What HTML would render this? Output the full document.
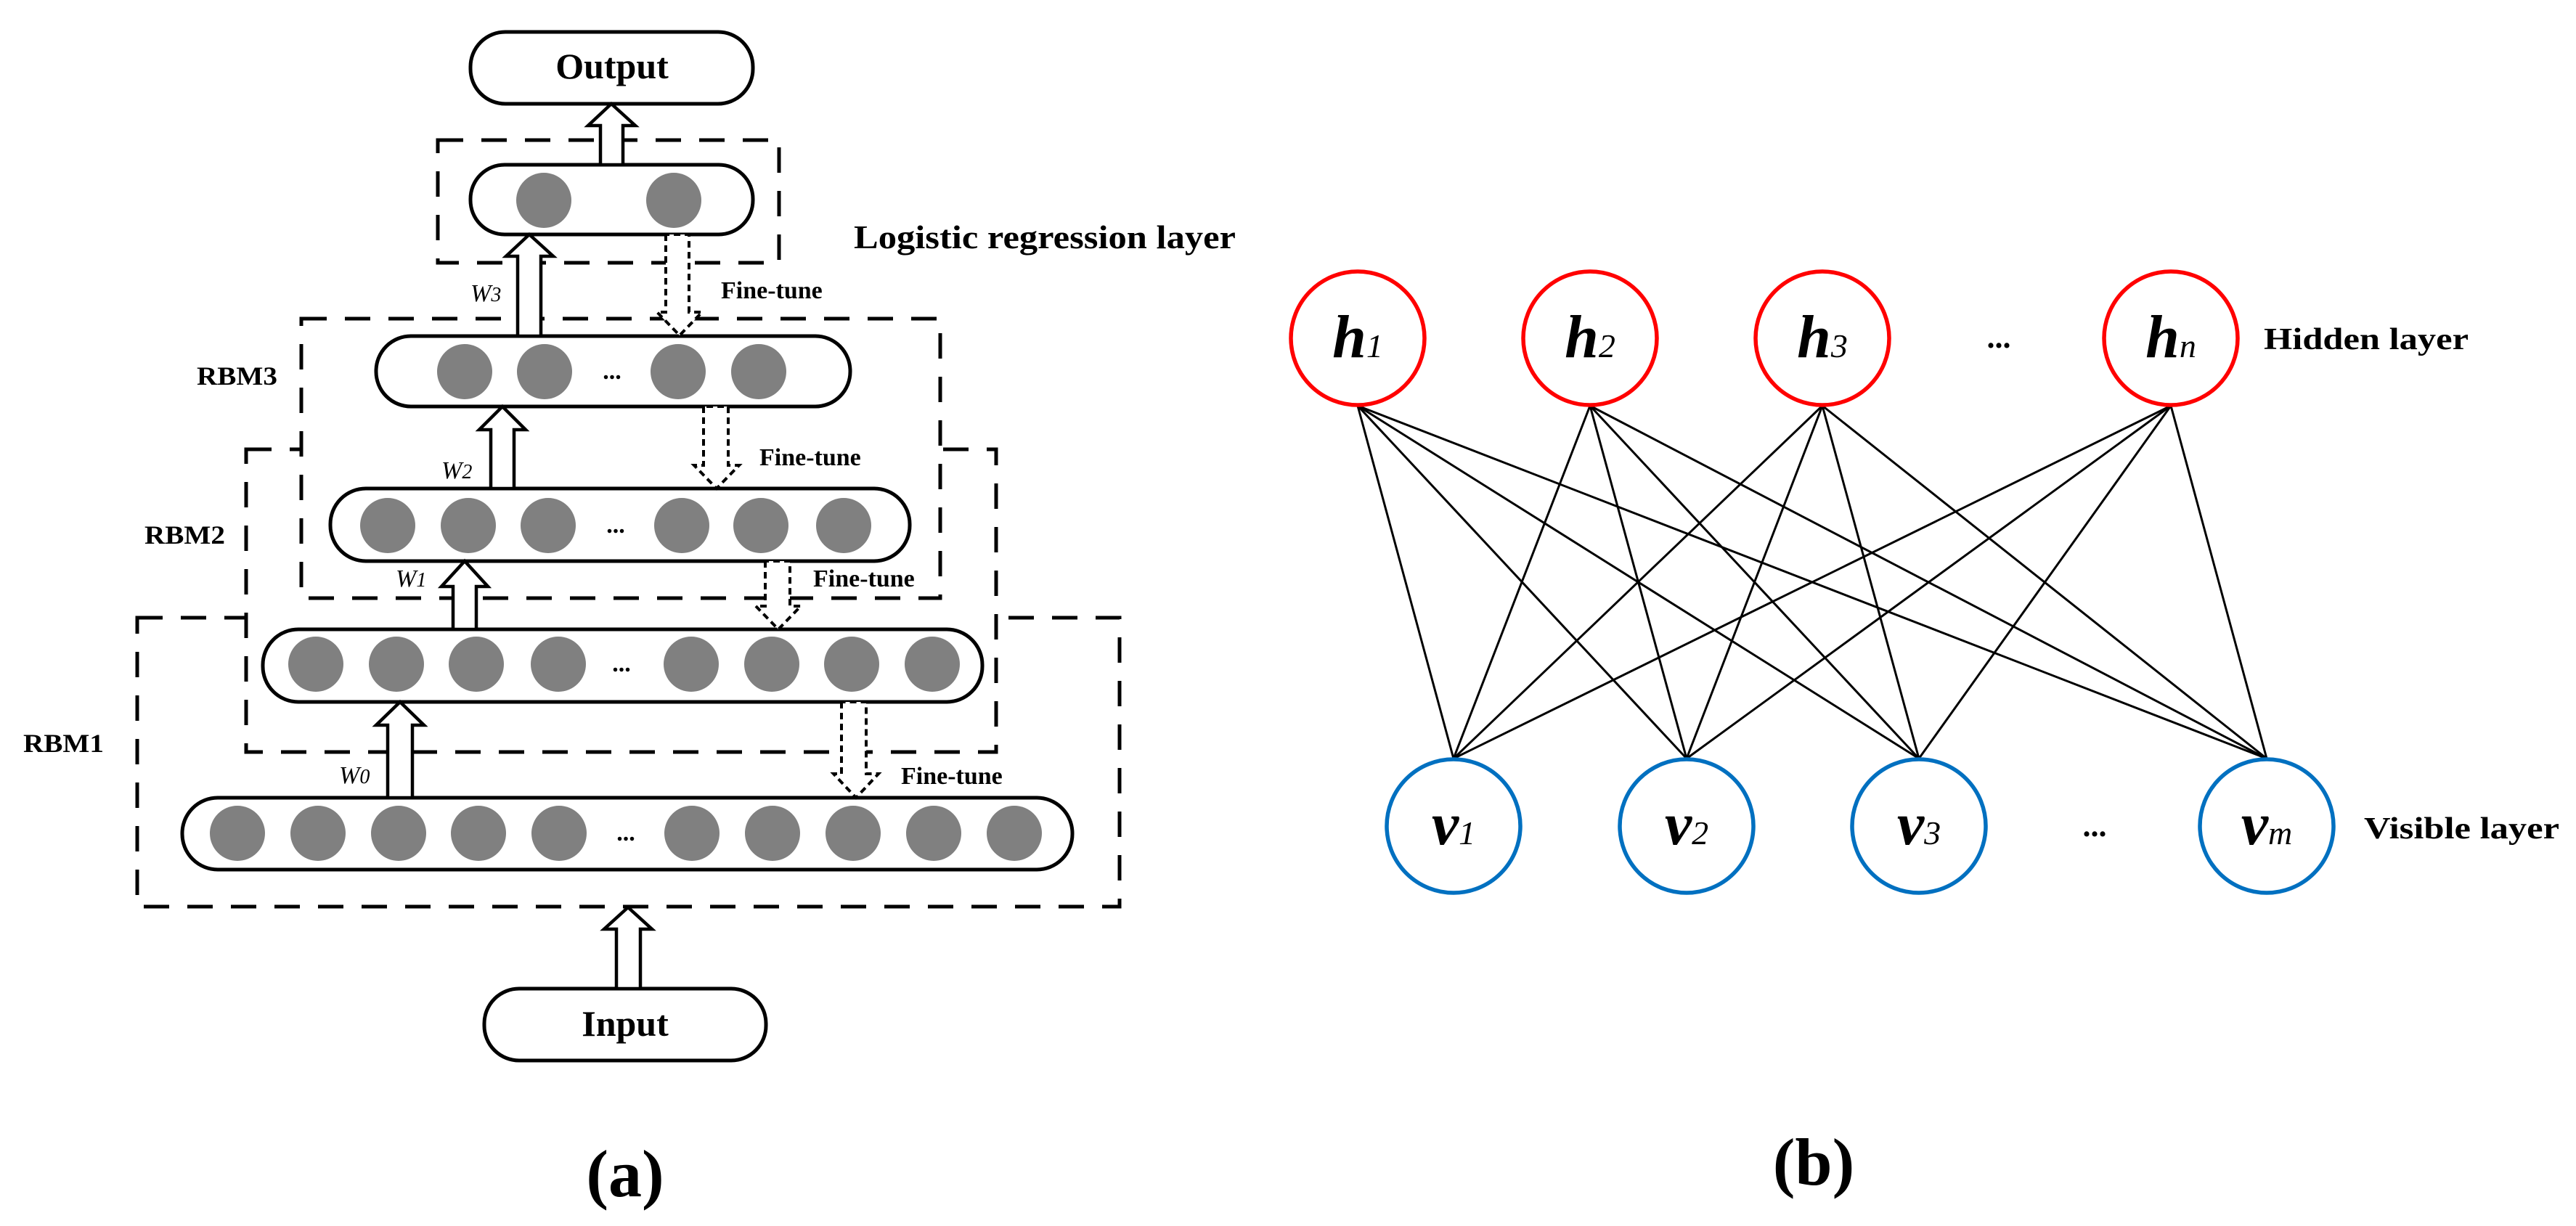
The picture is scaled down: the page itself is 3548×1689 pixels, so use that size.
<!DOCTYPE html>
<html><head><meta charset="utf-8"><style>html,body{margin:0;padding:0;background:#fff}svg{display:block}svg text{font-family:"Liberation Serif","Times New Roman",serif}</style></head>
<body>
<svg width="3548" height="1689" viewBox="0 0 3548 1689" xmlns="http://www.w3.org/2000/svg" style="font-family:'Liberation Serif',serif">
<rect width="3548" height="1689" fill="#fff"/>
<g fill="#fff" stroke="#000" stroke-width="5" stroke-dasharray="35 25">
<rect x="189" y="851" width="1353" height="398"/>
<rect x="339" y="619" width="1033" height="417"/>
<rect x="415" y="439" width="880" height="385"/>
<rect x="603" y="193" width="470" height="169"/>
</g>
<g fill="#fff" stroke="#000" stroke-width="5">
<rect x="648" y="44" width="389" height="99" rx="48"/>
<rect x="648" y="227" width="389" height="96" rx="47"/>
<rect x="518" y="463" width="653" height="97" rx="48"/>
<rect x="455" y="673" width="798" height="100" rx="49"/>
<rect x="362" y="867" width="991" height="100" rx="49"/>
<rect x="251" y="1099" width="1226" height="99" rx="49"/>
<rect x="667" y="1362" width="388" height="99" rx="48"/>
</g>
<g fill="#808080">
<circle cx="749" cy="276" r="38"/><circle cx="928" cy="276" r="38"/>
<circle cx="640" cy="512" r="38"/><circle cx="750" cy="512" r="38"/><circle cx="934" cy="512" r="38"/><circle cx="1045" cy="512" r="38"/>
<circle cx="534" cy="724" r="38"/><circle cx="645" cy="724" r="38"/><circle cx="755" cy="724" r="38"/><circle cx="939" cy="724" r="38"/><circle cx="1048" cy="724" r="38"/><circle cx="1162" cy="724" r="38"/>
<circle cx="435" cy="915" r="38"/><circle cx="546" cy="915" r="38"/><circle cx="656" cy="915" r="38"/><circle cx="769" cy="915" r="38"/><circle cx="952" cy="915" r="38"/><circle cx="1063" cy="915" r="38"/><circle cx="1173" cy="915" r="38"/><circle cx="1284" cy="915" r="38"/>
<circle cx="327" cy="1148" r="38"/><circle cx="438" cy="1148" r="38"/><circle cx="549" cy="1148" r="38"/><circle cx="659" cy="1148" r="38"/><circle cx="770" cy="1148" r="38"/><circle cx="953" cy="1148" r="38"/><circle cx="1064" cy="1148" r="38"/><circle cx="1175" cy="1148" r="38"/><circle cx="1286" cy="1148" r="38"/><circle cx="1397" cy="1148" r="38"/>
</g>
<g font-weight="bold" font-size="34" text-anchor="middle">
<text x="843" y="522">...</text><text x="848" y="734">...</text><text x="856" y="925">...</text><text x="862" y="1158">...</text>
</g>
<g fill="#fff" stroke="#000" stroke-width="4.5" stroke-linejoin="miter">
<polygon points="827,227 827,173 810,173 842,143 875,173 858,173 858,227"/>
<polygon points="713,463 713,353 697,353 729,323 762,353 745,353 745,463"/>
<polygon points="676,673 676,592 660,592 692,560 724,592 708,592 708,673"/>
<polygon points="624,867 624,808 608,808 640,773 672,808 656,808 656,867"/>
<polygon points="534,1099 534,999 518,999 551,967 584,999 568,999 568,1099"/>
<polygon points="849,1362 849,1280 832,1280 865,1250 898,1280 882,1280 882,1362"/>
</g>
<g fill="#fff" stroke="#000" stroke-width="4" stroke-dasharray="9 6">
<polygon points="917,323 917,430 905,430 936,462 967,430 949,430 949,323"/>
<polygon points="969,560 969,641 956,641 987,673 1018,641 1003,641 1003,560"/>
<polygon points="1054,773 1054,835 1041,835 1072,867 1103,835 1088,835 1088,773"/>
<polygon points="1159,967 1159,1066 1148,1066 1179,1099 1210,1066 1193,1066 1193,967"/>
</g>
<g font-weight="bold">
<text x="843" y="108" font-size="50" text-anchor="middle">Output</text>
<text x="861" y="1427" font-size="50" text-anchor="middle">Input</text>
<text x="861" y="1648" font-size="92" text-anchor="middle">(a)</text>
<text x="1176" y="342" font-size="46" textLength="526" lengthAdjust="spacingAndGlyphs">Logistic regression layer</text>
<text x="271" y="530" font-size="36" textLength="111" lengthAdjust="spacingAndGlyphs">RBM3</text>
<text x="199" y="749" font-size="36" textLength="111" lengthAdjust="spacingAndGlyphs">RBM2</text>
<text x="32" y="1036" font-size="36" textLength="111" lengthAdjust="spacingAndGlyphs">RBM1</text>
<g font-size="34">
<text x="993" y="411">Fine-tune</text>
<text x="1046" y="641">Fine-tune</text>
<text x="1120" y="808">Fine-tune</text>
<text x="1241" y="1080">Fine-tune</text>
</g>
</g>
<g font-style="italic" font-size="34">
<text x="648" y="415">W<tspan font-size="28">3</tspan></text>
<text x="608" y="659">W<tspan font-size="28">2</tspan></text>
<text x="545" y="808">W<tspan font-size="28">1</tspan></text>
<text x="467" y="1079">W<tspan font-size="28">0</tspan></text>
</g>
<g stroke="#000" stroke-width="3">
<line x1="1870" y1="559" x2="2002" y2="1045"/><line x1="1870" y1="559" x2="2323" y2="1045"/><line x1="1870" y1="559" x2="2643" y2="1045"/><line x1="1870" y1="559" x2="3122" y2="1045"/>
<line x1="2190" y1="559" x2="2002" y2="1045"/><line x1="2190" y1="559" x2="2323" y2="1045"/><line x1="2190" y1="559" x2="2643" y2="1045"/><line x1="2190" y1="559" x2="3122" y2="1045"/>
<line x1="2510" y1="559" x2="2002" y2="1045"/><line x1="2510" y1="559" x2="2323" y2="1045"/><line x1="2510" y1="559" x2="2643" y2="1045"/><line x1="2510" y1="559" x2="3122" y2="1045"/>
<line x1="2990" y1="559" x2="2002" y2="1045"/><line x1="2990" y1="559" x2="2323" y2="1045"/><line x1="2990" y1="559" x2="2643" y2="1045"/><line x1="2990" y1="559" x2="3122" y2="1045"/>
</g>
<g fill="#fff" stroke="#ff0000" stroke-width="5.5">
<circle cx="1870" cy="466" r="92"/><circle cx="2190" cy="466" r="92"/><circle cx="2510" cy="466" r="92"/><circle cx="2990" cy="466" r="92"/>
</g>
<g fill="#fff" stroke="#0070c0" stroke-width="5.5">
<circle cx="2002" cy="1138" r="92"/><circle cx="2323" cy="1138" r="92"/><circle cx="2643" cy="1138" r="92"/><circle cx="3122" cy="1138" r="92"/>
</g>
<g font-style="italic" font-weight="bold" font-size="84" text-anchor="middle">
<text x="1870" y="492">h<tspan font-size="46" font-weight="normal">1</tspan></text>
<text x="2190" y="492">h<tspan font-size="46" font-weight="normal">2</tspan></text>
<text x="2510" y="492">h<tspan font-size="46" font-weight="normal">3</tspan></text>
<text x="2990" y="492">h<tspan font-size="46" font-weight="normal">n</tspan></text>
<text x="2002" y="1163">v<tspan font-size="46" font-weight="normal">1</tspan></text>
<text x="2323" y="1163">v<tspan font-size="46" font-weight="normal">2</tspan></text>
<text x="2643" y="1163">v<tspan font-size="46" font-weight="normal">3</tspan></text>
<text x="3122" y="1163">v<tspan font-size="46" font-weight="normal">m</tspan></text>
</g>
<g font-weight="bold">
<text x="2753" y="479" font-size="44" text-anchor="middle">...</text>
<text x="2885" y="1152" font-size="44" text-anchor="middle">...</text>
<text x="3118" y="481" font-size="42" textLength="282" lengthAdjust="spacingAndGlyphs">Hidden layer</text>
<text x="3256" y="1155" font-size="42" textLength="269" lengthAdjust="spacingAndGlyphs">Visible layer</text>
<text x="2498" y="1632" font-size="92" text-anchor="middle">(b)</text>
</g>
</svg>
</body></html>
